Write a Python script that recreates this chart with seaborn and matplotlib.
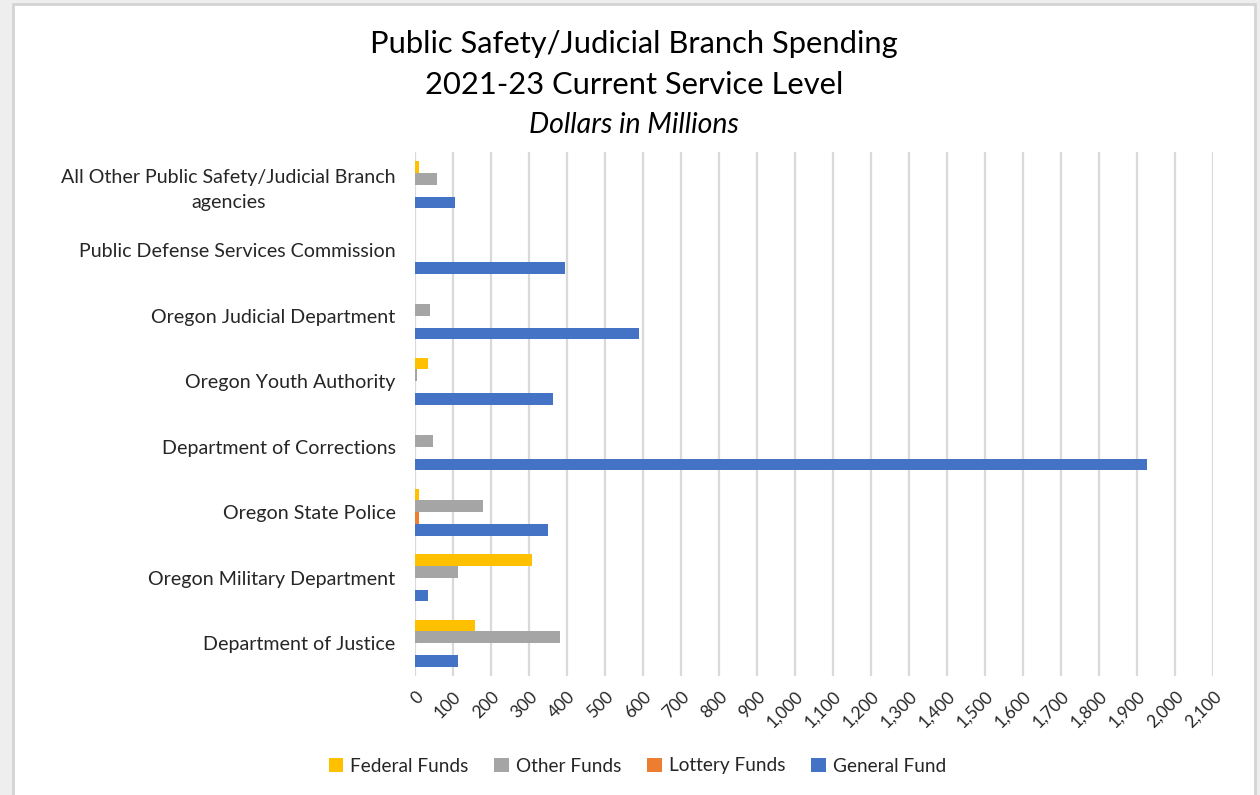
import matplotlib
matplotlib.use("Agg")
import matplotlib.pyplot as plt
import matplotlib.ticker as mticker
from matplotlib.patches import Rectangle, Patch
import seaborn as sns
import pandas as pd

categories = [
    "All Other Public Safety/Judicial Branch\nagencies",
    "Public Defense Services Commission",
    "Oregon Judicial Department",
    "Oregon Youth Authority",
    "Department of Corrections",
    "Oregon State Police",
    "Oregon Military Department",
    "Department of Justice",
]
series = ["Federal Funds", "Other Funds", "Lottery Funds", "General Fund"]
federal_funds = [10, 0, 0, 35, 0, 10, 307, 158]
other_funds = [58, 0, 40, 5, 48, 178, 113, 382]
lottery_funds = [0, 0, 0, 0, 0, 10, 0, 0]
general_fund = [104, 396, 589, 363, 1927, 349, 35, 113]
colors = ["#FFC000", "#A5A5A5", "#ED7D31", "#4472C4"]
x_ticks = list(range(0, 2101, 100))

rows = []
for name, vals in zip(series, [federal_funds, other_funds, lottery_funds, general_fund]):
    for c, v in zip(categories, vals):
        rows.append({"Agency": c, "Fund": name, "Value": v})
df = pd.DataFrame(rows)

sns.set_theme(style="white")
plt.rcParams["font.family"] = ["Lato", "DejaVu Sans"]

fig = plt.figure(figsize=(12.6, 7.95), dpi=100)
fig.patch.set_facecolor("#eeeeee")
bg = Rectangle((13 / 1260, -0.01), (1255 - 13) / 1260, (795 - 4) / 795 + 0.01,
               transform=fig.transFigure, facecolor="white",
               edgecolor="#d4d4d4", linewidth=2, zorder=-10)
fig.add_artist(bg)

ax = fig.add_axes([415 / 1260, 1 - 676 / 795, (1213 - 415) / 1260, (676 - 152) / 795])
ax.set_zorder(5)
ax.set_facecolor("none")
sns.barplot(data=df, y="Agency", x="Value", hue="Fund", order=categories,
            hue_order=series, palette=colors, orient="h", width=0.72,
            linewidth=0, saturation=1, ax=ax, legend=False, zorder=3)

ax.set_xlim(0, 2100)
ax.set_ylim(len(categories) - 0.5, -0.5)
ax.set_xticks(x_ticks)
ax.xaxis.set_major_formatter(mticker.FuncFormatter(lambda v, p: f"{v:,.0f}"))
ax.grid(axis="x", color="#d9d9d9", linewidth=1.6, zorder=0)
ax.set_axisbelow(True)
for s in ax.spines.values():
    s.set_visible(False)
ax.set_xlabel("")
ax.set_ylabel("")
ax.tick_params(axis="y", length=0, pad=14, labelsize=14.1, labelcolor="#262626")
ax.tick_params(axis="x", length=0, pad=9, labelsize=12.5, labelcolor="#262626")
for lab in ax.get_yticklabels():
    lab.set_multialignment("center")
    lab.set_linespacing(1.55)
for lab in ax.get_xticklabels():
    lab.set_rotation(45)
    lab.set_ha("right")
    lab.set_rotation_mode("anchor")

fig.text(0.503, 1 - 44 / 795, "Public Safety/Judicial Branch Spending", ha="center",
         va="center", fontsize=22.2, color="black")
fig.text(0.503, 1 - 85 / 795, "2021-23 Current Service Level", ha="center",
         va="center", fontsize=22.2, color="black")
fig.text(0.503, 1 - 125 / 795, "Dollars in Millions", ha="center",
         va="center", fontsize=20.5, style="italic", color="black")

handles = [Patch(facecolor=c, edgecolor="none") for c in colors]
fig.legend(handles, series, loc="center", bbox_to_anchor=(0.506, 1 - 766 / 795),
           ncol=4, frameon=False, fontsize=13.7, handlelength=0.75, handleheight=0.75,
           columnspacing=1.35, handletextpad=0.4, labelcolor="#262626")

fig.savefig("out.png", dpi=100, facecolor=fig.get_facecolor())
